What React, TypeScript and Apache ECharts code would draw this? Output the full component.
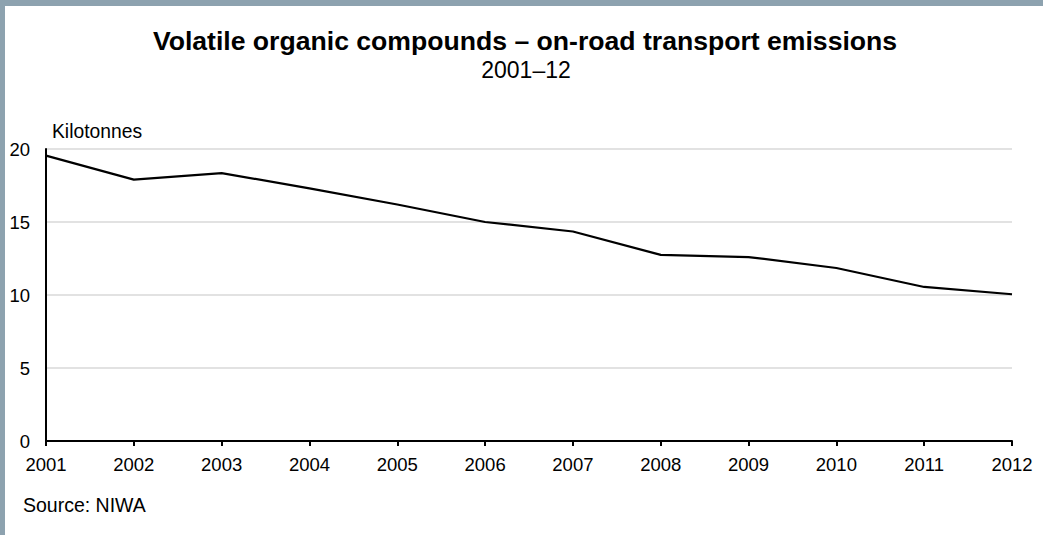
import React, { useEffect, useRef } from "react";
import * as echarts from "echarts";

const years = ["2001", "2002", "2003", "2004", "2005", "2006", "2007", "2008", "2009", "2010", "2011", "2012"];
const emissions = [19.55, 17.9, 18.35, 17.3, 16.2, 15.0, 14.35, 12.75, 12.6, 11.85, 10.55, 10.05];
const titleText = "Volatile organic compounds – on-road transport emissions";
const subtitleText = "2001–12";
const unitText = "Kilotonnes";
const sourceText = "Source: NIWA";

const FONT = "Liberation Sans, Arial, sans-serif";
const BORDER = "#8da2af";

export default function App() {
  const ref = useRef<HTMLDivElement>(null);
  useEffect(() => {
    if (!ref.current) return;
    const chart = echarts.init(ref.current, undefined, { renderer: "svg" });
    chart.setOption({
      animation: false,
      backgroundColor: "#ffffff",
      graphic: [
        { type: "rect", shape: { x: 0, y: 0, width: 1043, height: 6 }, style: { fill: BORDER }, silent: true },
        { type: "rect", shape: { x: 0, y: 0, width: 5, height: 535 }, style: { fill: BORDER }, silent: true },
        {
          type: "text",
          x: 525,
          y: 41,
          style: {
            text: titleText,
            fontFamily: FONT,
            fontSize: 26.6,
            fontWeight: "bold",
            fill: "#000",
            align: "center",
            verticalAlign: "middle",
          },
        },
        {
          type: "text",
          x: 526,
          y: 70,
          style: {
            text: subtitleText,
            fontFamily: FONT,
            fontSize: 23,
            fill: "#000",
            align: "center",
            verticalAlign: "middle",
          },
        },
        {
          type: "text",
          x: 52,
          y: 131,
          style: { text: unitText, fontFamily: FONT, fontSize: 19.3, fill: "#000", align: "left", verticalAlign: "middle" },
        },
        {
          type: "text",
          x: 23,
          y: 505,
          style: { text: sourceText, fontFamily: FONT, fontSize: 19.5, fill: "#000", align: "left", verticalAlign: "middle" },
        },
      ],
      grid: { left: 46, right: 31, top: 149, bottom: 94, containLabel: false },
      xAxis: {
        type: "category",
        data: years,
        boundaryGap: false,
        axisLine: { show: true, lineStyle: { color: "#000", width: 2 } },
        axisTick: { show: true, length: 5, lineStyle: { color: "#000", width: 2 }, alignWithLabel: true },
        axisLabel: { fontFamily: FONT, fontSize: 18.5, color: "#000", margin: 14, interval: 0 },
        splitLine: { show: false },
      },
      yAxis: {
        type: "value",
        min: 0,
        max: 20,
        interval: 5,
        axisLine: { show: true, lineStyle: { color: "#000", width: 2 } },
        axisTick: { show: false },
        axisLabel: { fontFamily: FONT, fontSize: 18.5, color: "#000", margin: 16 },
        splitLine: { show: true, lineStyle: { color: "#d9d9d9", width: 1.5 } },
      },
      series: [
        {
          type: "line",
          data: emissions,
          symbol: "none",
          lineStyle: { color: "#000", width: 2.2 },
        },
      ],
    });
    return () => chart.dispose();
  }, []);
  return (
    <div style={{ position: "fixed", left: 0, top: 0, width: 1043, height: 535 }}>
      <div ref={ref} style={{ width: 1043, height: 535 }} />
    </div>
  );
}
